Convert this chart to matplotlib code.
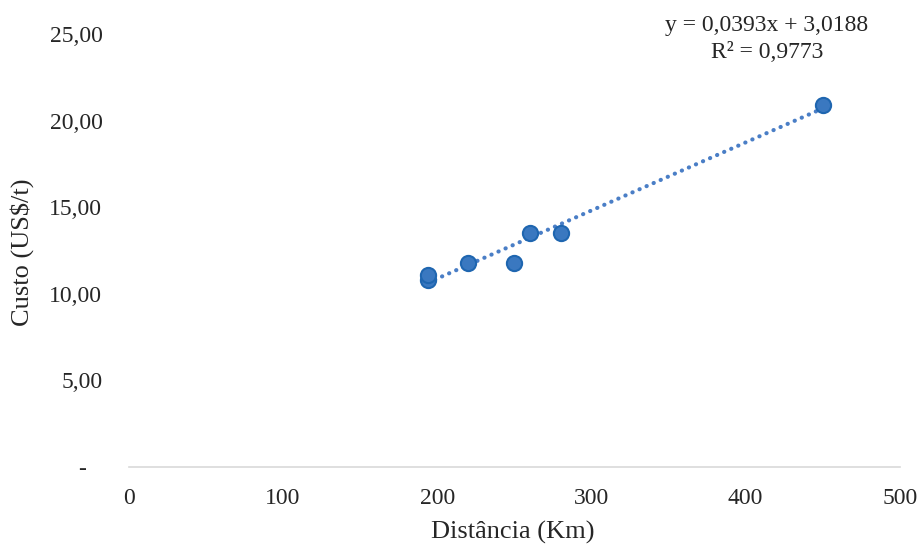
import numpy as np
import matplotlib.pyplot as plt
from matplotlib.transforms import ScaledTranslation

distancia = [194, 194, 220, 250, 260, 280, 450]
custo = [10.8, 11.1, 11.8, 11.8, 13.5, 13.5, 20.9]
coef_a = 0.0393
coef_b = 3.0188
r2 = 0.9773

plt.rcParams['font.family'] = ['Liberation Serif', 'DejaVu Serif']

fig = plt.figure(figsize=(9.2, 5.46), dpi=100)
ax = fig.add_axes([0.140, 0.1447, 0.838, 0.793])

xs = np.array([min(distancia), max(distancia)])
ax.plot(xs, coef_a * xs + coef_b, linestyle=(0, (0.05, 1.8)), color='#4A7EC6',
        linewidth=3.0, dash_capstyle='round', solid_capstyle='round', zorder=2)
ax.scatter(distancia, custo, s=120, color='#3A78C0', edgecolor='#1F66B0',
           linewidth=1.5, zorder=3)

ax.set_xlim(0, 500)
ax.set_ylim(0, 25)
ax.set_xticks([0, 100, 200, 300, 400, 500])
ax.set_yticks([0, 5, 10, 15, 20, 25])
ax.set_yticklabels(['-', '5,00', '10,00', '15,00', '20,00', '25,00'])

for s in ['top', 'right', 'left']:
    ax.spines[s].set_visible(False)
ax.spines['bottom'].set_color('#D9D9D9')
ax.spines['bottom'].set_linewidth(1.2)
ax.tick_params(length=0, labelsize=17, colors='#262626')
ax.tick_params(axis='x', pad=15)
ax.tick_params(axis='y', pad=19)

# the "-" for zero sits a bit left of the other labels
zero_lbl = ax.get_yticklabels()[0]
zero_lbl.set_transform(zero_lbl.get_transform() + ScaledTranslation(-16 / 100, 0, fig.dpi_scale_trans))

fig.text(513 / 920, 1 - 532 / 546, 'Distância (Km)', ha='center', va='center',
         fontsize=19, color='#262626')
fig.text(22 / 920, 1 - 252 / 546, 'Custo (US$/t)', ha='center', va='center',
         rotation=90, fontsize=19, color='#262626')

eq = 'y = {:.4f}x + {:.4f}'.format(coef_a, coef_b).replace('.', ',')
rr = 'R² = {:.4f}'.format(r2).replace('.', ',')
fig.text(767 / 920, 1 - 26 / 546, eq, ha='center', va='center', fontsize=17, color='#262626')
fig.text(767 / 920, 1 - 52 / 546, rr, ha='center', va='center', fontsize=17, color='#262626')

fig.savefig('out.png', dpi=100)
